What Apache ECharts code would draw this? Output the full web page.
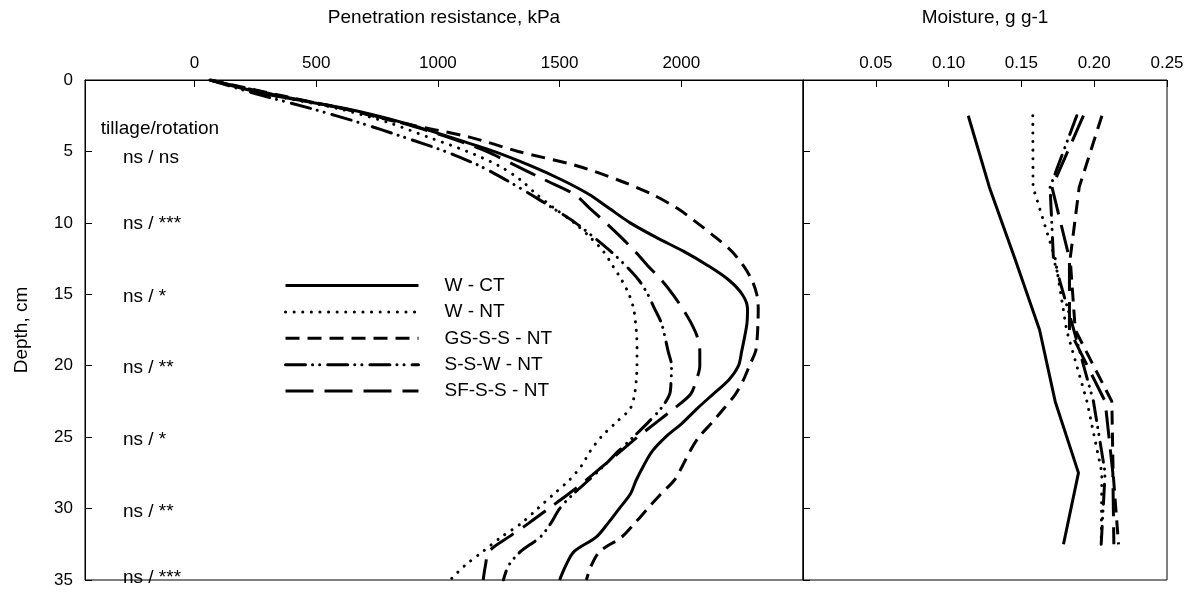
<!DOCTYPE html>
<html>
<head>
<meta charset="utf-8">
<script src="https://cdn.jsdelivr.net/npm/echarts@6/dist/echarts.min.js"></script>
<style>
  html, body { margin: 0; padding: 0; background: #fff; }
  #chart { width: 1201px; height: 598px; }
</style>
</head>
<body>
<div id="chart"></div>
<script>
// Depth grid (cm) for the penetration resistance profiles
const depthPR = [0,1,2,3,4,5,6,7,8,9,10,11,12,13,14,15,16,17,18,19,20,21,22,23,24,25,26,27,28,29,30,31,32,33,34,35];

// Penetration resistance, kPa
const prWCT   = [64,300,620,860,1050,1230,1380,1510,1620,1705,1790,1895,2010,2110,2195,2250,2272,2270,2260,2248,2235,2195,2130,2065,2005,1935,1880,1845,1815,1790,1745,1700,1650,1560,1525,1500];
const prWNT   = [64,300,590,800,960,1120,1250,1340,1405,1480,1560,1625,1680,1718,1755,1785,1804,1812,1817,1818,1818,1815,1808,1790,1730,1670,1625,1590,1540,1475,1410,1345,1260,1185,1110,1050];
const prGSSS  = [64,330,610,850,1130,1330,1570,1740,1880,1985,2065,2140,2208,2255,2290,2310,2316,2315,2312,2305,2280,2255,2222,2175,2125,2072,2035,2005,1972,1915,1862,1810,1755,1665,1630,1610];
const prSSW   = [64,260,480,680,860,1030,1170,1280,1380,1475,1565,1640,1710,1772,1825,1862,1890,1918,1933,1946,1960,1958,1952,1916,1862,1802,1740,1683,1620,1555,1500,1465,1420,1340,1290,1269];
const prSFSS  = [64,320,610,850,1040,1200,1320,1440,1560,1625,1690,1752,1810,1862,1918,1965,2005,2040,2066,2076,2076,2062,2038,1970,1895,1820,1750,1680,1610,1535,1455,1375,1290,1210,1195,1186];

// Sampling depths (cm) for soil moisture
const depthM = [2.5,7.5,12.5,17.5,22.5,27.5,32.5];

// Moisture, g g-1
const mWCT  = [0.1135,0.128,0.1455,0.1625,0.1732,0.1892,0.1789];
const mWNT  = [0.1578,0.158,0.1732,0.181,0.195,0.2053,0.2048];
const mGSSS = [0.2053,0.1897,0.1835,0.187,0.2121,0.213,0.2167];
const mSSW  = [0.188,0.1697,0.172,0.186,0.1995,0.2075,0.2048];
const mSFSS = [0.1926,0.171,0.183,0.183,0.2075,0.2128,0.2135];

const seriesNames = ['W - CT','W - NT','GS-S-S - NT','S-S-W - NT','SF-S-S - NT'];

// Axis tick labels
const prTicks = [0,500,1000,1500,2000];
const mTicks = [0.05,0.10,0.15,0.20,0.25];

// Significance notes (tillage / rotation) by depth
const noteDepths = [5.45,10.05,15.2,20.15,25.15,30.2,34.85];
const noteTexts  = ['ns / ns','ns / ***','ns / *','ns / **','ns / *','ns / **','ns / ***'];
const noteHeader = 'tillage/rotation';

const FONT = '"Liberation Sans", Arial, sans-serif';

// line styles for the five treatments
const styles = [
  { type: 'solid', cap: 'butt' },
  { type: [0.1, 8.5], cap: 'round' },
  { type: [14, 8], cap: 'butt' },
  { type: [20, 7, 0.1, 7, 0.1, 8], cap: 'round' },
  { type: [28, 11], cap: 'butt' }
];

const prSets = [prWCT, prWNT, prGSSS, prSSW, prSFSS];
const mSets = [mWCT, mWNT, mGSSS, mSSW, mSFSS];

function pairs(vals, depths) {
  return vals.map((v, i) => [v, depths[i]]);
}

const series = [];
prSets.forEach((vals, i) => {
  series.push({
    name: seriesNames[i],
    type: 'line',
    xAxisIndex: 0, yAxisIndex: 0,
    data: pairs(vals, depthPR),
    showSymbol: false,
    symbol: 'none',
    smooth: 0.3,
    lineStyle: { color: '#000', width: 3, type: styles[i].type, cap: styles[i].cap },
    itemStyle: { color: '#000' },
    animation: false,
    z: 3
  });
});
mSets.forEach((vals, i) => {
  series.push({
    name: 'moisture ' + seriesNames[i],
    type: 'line',
    xAxisIndex: 1, yAxisIndex: 1,
    data: pairs(vals, depthM),
    showSymbol: false,
    symbol: 'none',
    lineStyle: { color: '#000', width: 3, type: styles[i].type, cap: styles[i].cap },
    itemStyle: { color: '#000' },
    animation: false,
    z: 3
  });
});

// text notes on the left panel, placed in data coordinates
series.push({
  type: 'scatter',
  xAxisIndex: 0, yAxisIndex: 0,
  symbolSize: 0,
  silent: true,
  animation: false,
  itemStyle: { opacity: 1, color: '#000' },
  data: [[-385, 3.4, noteHeader]].concat(noteDepths.map((d, i) => [-294, d, noteTexts[i]])),
  label: {
    show: true,
    position: 'right',
    distance: 0,
    formatter: p => p.data[2],
    color: '#000',
    opacity: 1,
    fontFamily: FONT,
    fontSize: 19
  }
});

const axisLineStyle = { show: true, onZero: false, lineStyle: { color: '#000', width: 1 } };
const tickStyle = { show: true, inside: true, length: 7, lineStyle: { color: '#000', width: 1 } };
const labelBase = { color: '#000', fontFamily: FONT, fontSize: 17 };
const nameBase = { color: '#000', fontFamily: FONT, fontSize: 19 };

const option = {
  backgroundColor: '#fff',
  animation: false,
  grid: [
    { left: 85, top: 80, width: 718, height: 500, show: true, borderColor: '#000', borderWidth: 1, backgroundColor: 'transparent' },
    { left: 803, top: 80, width: 364, height: 500, show: true, borderColor: '#000', borderWidth: 1, backgroundColor: 'transparent' }
  ],
  legend: {
    data: seriesNames,
    orient: 'vertical',
    left: 279,
    top: 271,
    itemWidth: 133,
    itemHeight: 14,
    itemGap: 7.4,
    itemStyle: { opacity: 0 },
    lineStyle: { width: 3 },
    textStyle: { color: '#000', fontFamily: FONT, fontSize: 19, padding: [0, 0, 0, 21] },
    selectedMode: false
  },
  xAxis: [
    {
      gridIndex: 0, type: 'value', position: 'top',
      min: -450, max: 2500,
      axisLine: axisLineStyle,
      axisTick: Object.assign({}, tickStyle, { customValues: prTicks.concat([2500]) }),
      axisLabel: Object.assign({}, labelBase, { customValues: prTicks, margin: 8, formatter: v => String(v) }),
      splitLine: { show: false },
      name: 'Penetration resistance, kPa',
      nameLocation: 'middle', nameGap: 53,
      nameTextStyle: nameBase
    },
    {
      gridIndex: 1, type: 'value', position: 'top',
      min: 0, max: 0.25, interval: 0.05,
      axisLine: axisLineStyle,
      axisTick: tickStyle,
      axisLabel: Object.assign({}, labelBase, { showMinLabel: false, margin: 8, formatter: v => v.toFixed(2) }),
      splitLine: { show: false },
      name: 'Moisture, g g-1',
      nameLocation: 'middle', nameGap: 53,
      nameTextStyle: nameBase
    }
  ],
  yAxis: [
    {
      gridIndex: 0, type: 'value', inverse: true,
      min: 0, max: 35, interval: 5,
      axisLine: axisLineStyle,
      axisTick: tickStyle,
      axisLabel: Object.assign({}, labelBase, { margin: 12 }),
      splitLine: { show: false },
      name: 'Depth, cm',
      nameLocation: 'middle', nameGap: 54, nameRotate: 90,
      nameTextStyle: nameBase
    },
    {
      gridIndex: 1, type: 'value', inverse: true,
      min: 0, max: 35, interval: 5,
      axisLine: axisLineStyle,
      axisTick: tickStyle,
      axisLabel: { show: false },
      splitLine: { show: false }
    }
  ],
  series: series
};

const chart = echarts.init(document.getElementById('chart'), null, { renderer: 'canvas' });
chart.setOption(option);
</script>
</body>
</html>
